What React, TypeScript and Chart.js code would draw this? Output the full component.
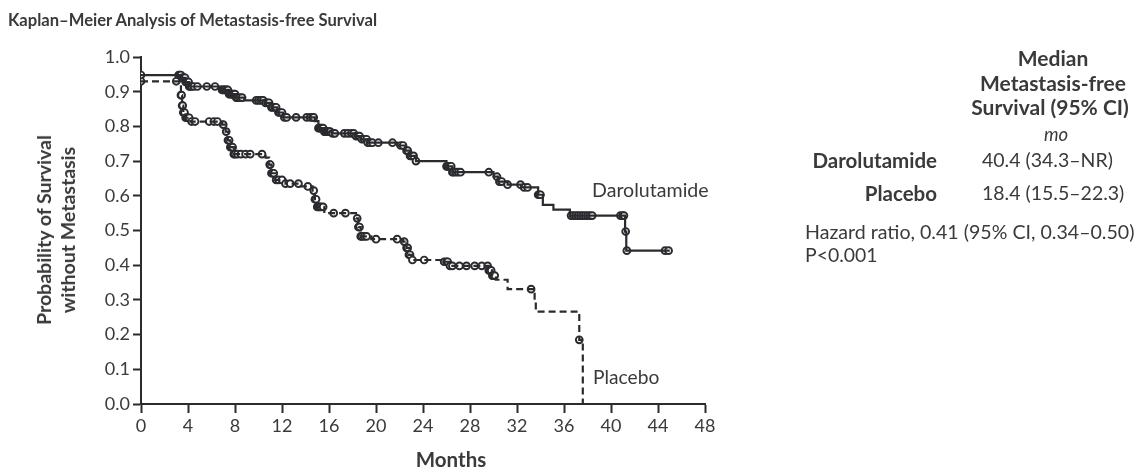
import React, { useEffect, useRef } from "react";
import { Chart, registerables } from "chart.js";

Chart.register(...registerables);

// Kaplan–Meier step data (time in months, survival probability after event)
const darTimes = [0, 3.5, 3.8, 4.1, 6.8, 7.5, 8.1, 8.8, 10.5, 11.1, 11.6, 12.1, 14.8, 15.1, 15.6, 16.3, 18.2, 18.7, 19.3, 21.8, 22.5, 22.9, 23.4, 26.0, 26.5, 30.0, 30.4, 31.2, 32.4, 33.8, 34.2, 35.1, 36.5, 41.2, 41.3, 45.0];
const darSurv = [0.948, 0.94, 0.928, 0.915, 0.905, 0.893, 0.883, 0.875, 0.868, 0.855, 0.84, 0.826, 0.815, 0.795, 0.785, 0.78, 0.772, 0.763, 0.753, 0.745, 0.73, 0.715, 0.70, 0.685, 0.668, 0.655, 0.641, 0.632, 0.624, 0.603, 0.574, 0.56, 0.543, 0.497, 0.442, 0.442];

const plaTimes = [0, 3.3, 3.4, 3.5, 3.6, 3.8, 4.2, 6.9, 7.2, 7.4, 7.6, 7.9, 10.6, 10.9, 11.1, 11.4, 12.3, 13.5, 14.6, 14.8, 15.0, 15.6, 18.3, 18.5, 18.7, 19.6, 22.3, 22.6, 22.8, 23.1, 25.8, 26.3, 29.6, 29.9, 30.2, 31.2, 33.5, 33.6, 37.3, 37.6];
const plaSurv = [0.93, 0.92, 0.89, 0.86, 0.84, 0.825, 0.814, 0.805, 0.785, 0.76, 0.74, 0.72, 0.71, 0.69, 0.665, 0.646, 0.635, 0.627, 0.615, 0.59, 0.568, 0.55, 0.535, 0.51, 0.483, 0.475, 0.468, 0.45, 0.43, 0.415, 0.41, 0.398, 0.385, 0.37, 0.358, 0.331, 0.30, 0.266, 0.185, 0];

// Censoring marks (months)
const darCensor = [0, 3.2, 3.3, 3.4, 3.5, 3.55, 3.6, 3.65, 3.7, 3.75, 3.8, 3.85, 3.9, 4.0, 4.05, 4.1, 4.2, 4.3, 4.5, 4.8, 5.6, 6.3, 6.9, 7.0, 7.1, 7.2, 7.3, 7.4, 7.5, 7.6, 7.7, 7.8, 7.9, 8.0, 8.1, 8.2, 8.4, 8.6, 9.8, 10.0, 10.2, 10.4, 10.6, 10.8, 10.9, 11.1, 11.2, 11.4, 11.5, 11.7, 11.8, 12.0, 12.2, 12.4, 13.2, 14.1, 14.4, 14.6, 14.7, 15.1, 15.2, 15.3, 15.4, 15.5, 15.6, 15.7, 15.8, 15.9, 16.0, 16.1, 16.3, 16.5, 17.3, 17.6, 17.9, 18.1, 18.3, 18.5, 18.6, 18.8, 19.0, 19.2, 19.3, 19.5, 19.7, 20.2, 21.4, 22.1, 22.3, 22.6, 22.7, 22.9, 23.0, 23.2, 23.4, 26.0, 26.1, 26.2, 26.3, 26.4, 26.5, 26.6, 26.8, 27.0, 27.2, 29.6, 30.3, 30.5, 30.7, 31.2, 32.3, 32.6, 32.9, 33.8, 33.9, 34.0, 36.6, 36.8, 37.0, 37.2, 37.4, 37.6, 37.8, 38.0, 38.2, 38.4, 40.8, 41.0, 41.1, 41.25, 41.35, 44.6, 44.9];
const plaCensor = [0, 3.0, 3.4, 3.45, 3.5, 3.55, 3.6, 3.65, 3.7, 3.8, 3.9, 4.0, 4.1, 4.3, 4.6, 5.8, 6.2, 6.5, 7.0, 7.25, 7.4, 7.5, 7.6, 7.7, 7.8, 7.9, 8.0, 8.2, 8.5, 8.9, 9.3, 10.3, 10.95, 11.0, 11.1, 11.2, 11.3, 11.5, 11.7, 12.0, 12.3, 12.7, 13.4, 14.2, 14.7, 14.8, 14.9, 15.0, 15.1, 15.2, 15.3, 15.5, 16.4, 17.4, 18.4, 18.5, 18.6, 18.7, 18.8, 19.0, 19.2, 20.0, 21.8, 22.4, 22.6, 22.7, 22.8, 22.9, 23.1, 24.1, 25.8, 26.0, 26.1, 26.3, 26.5, 27.1, 27.7, 28.4, 29.0, 29.5, 29.6, 29.7, 29.8, 29.9, 30.0, 30.1, 33.2, 37.3];

const xTicks = [0, 4, 8, 12, 16, 20, 24, 28, 32, 36, 40, 44, 48];

const INK = "#2a2b2f";
const TEXT = "#3a3a3a";

function survAt(times: number[], vals: number[], t: number) {
  let v = vals[0];
  for (let i = 0; i < times.length; i++) if (times[i] <= t) v = vals[i];
  return v;
}

function T(props: { x: number; y: number; a?: "l" | "c" | "r"; s?: React.CSSProperties; children: React.ReactNode }) {
  const tx = props.a === "c" ? "-50%" : props.a === "r" ? "-100%" : "0";
  return (
    <div
      style={{
        position: "absolute",
        left: props.x,
        top: props.y,
        transform: `translate(${tx}, -50%)`,
        whiteSpace: "nowrap",
        fontFamily: "Lato, 'Open Sans', sans-serif",
        color: TEXT,
        lineHeight: 1,
        ...props.s,
      }}
    >
      {props.children}
    </div>
  );
}

export default function App() {
  const ref = useRef<HTMLCanvasElement | null>(null);

  useEffect(() => {
    if (!ref.current) return;
    const pts = (ts: number[], vs: number[]) => ts.map((t, i) => ({ x: t, y: vs[i] }));
    const cens = (cs: number[], ts: number[], vs: number[]) => cs.map((c) => ({ x: c, y: survAt(ts, vs, c) }));
    const censorStyle = {
      showLine: false,
      pointRadius: 3.4,
      pointBorderWidth: 1.9,
      pointBackgroundColor: "#ffffff",
      pointBorderColor: INK,
    };
    const chart = new Chart(ref.current, {
      type: "line",
      data: {
        datasets: [
          {
            label: "Darolutamide",
            data: pts(darTimes, darSurv),
            stepped: "before",
            borderColor: INK,
            borderWidth: 2.2,
            pointRadius: 0,
            fill: false,
          },
          {
            label: "Placebo",
            data: pts(plaTimes, plaSurv),
            stepped: "before",
            borderColor: INK,
            borderWidth: 2.2,
            borderDash: [7, 4],
            pointRadius: 0,
            fill: false,
          },
          { label: "Darolutamide censored", data: cens(darCensor, darTimes, darSurv), ...censorStyle },
          { label: "Placebo censored", data: cens(plaCensor, plaTimes, plaSurv), ...censorStyle },
        ],
      },
      options: {
        animation: false,
        responsive: true,
        maintainAspectRatio: false,
        layout: { padding: { left: 0, top: 57, right: 434, bottom: 0 } },
        plugins: { legend: { display: false }, tooltip: { enabled: false } },
        scales: {
          x: {
            type: "linear",
            min: 0,
            max: 48,
            afterBuildTicks: (s: any) => {
              s.ticks = xTicks.map((v) => ({ value: v }));
            },
            afterFit: (s: any) => {
              s.height = 66;
            },
            ticks: {
              color: TEXT,
              padding: 2,
              font: { family: "Lato, sans-serif", size: 18 },
            },
            grid: { drawOnChartArea: false, drawTicks: true, tickLength: 9, tickWidth: 2, tickColor: INK },
            border: { display: true, color: INK, width: 2 },
          },
          y: {
            min: 0,
            max: 1,
            ticks: {
              stepSize: 0.1,
              color: TEXT,
              padding: 3,
              font: { family: "Lato, sans-serif", size: 18 },
              callback: (v: any) => Number(v).toFixed(1),
            },
            afterFit: (s: any) => {
              s.width = 141;
            },
            grid: { drawOnChartArea: false, drawTicks: true, tickLength: 8, tickWidth: 2, tickColor: INK },
            border: { display: true, color: INK, width: 2 },
          },
        },
      },
    });
    return () => chart.destroy();
  }, []);

  const bold: React.CSSProperties = { fontWeight: 700 };
  return (
    <div style={{ position: "absolute", left: 0, top: 0, width: 1139, height: 470, background: "#fff" }}>
      <div style={{ position: "absolute", left: 0, top: 0, width: 1139, height: 470 }}>
        <canvas ref={ref} />
      </div>
      <T x={8} y={20} s={{ fontSize: 16.6, ...bold }}>Kaplan–Meier Analysis of Metastasis-free Survival</T>
      <div
        style={{
          position: "absolute",
          left: 56,
          top: 230,
          transform: "translate(-50%, -50%) rotate(-90deg)",
          whiteSpace: "nowrap",
          textAlign: "center",
          fontFamily: "Lato, sans-serif",
          fontSize: 19.5,
          fontWeight: 700,
          lineHeight: "24px",
          color: TEXT,
        }}
      >
        Probability of Survival
        <br />
        without Metastasis
      </div>
      <T x={451} y={459} a="c" s={{ fontSize: 20.5, ...bold }}>Months</T>
      <T x={592} y={190} s={{ fontSize: 19.6 }}>Darolutamide</T>
      <T x={593} y={377} s={{ fontSize: 19.2 }}>Placebo</T>

      <T x={1053} y={57} a="c" s={{ fontSize: 21, ...bold }}>Median</T>
      <T x={1053} y={82} a="c" s={{ fontSize: 21, ...bold }}>Metastasis-free</T>
      <T x={1050} y={106} a="c" s={{ fontSize: 21, ...bold }}>Survival (95% CI)</T>
      <T x={1056} y={134} a="c" s={{ fontSize: 18.5, fontStyle: "italic" }}>mo</T>
      <T x={937} y={160} a="r" s={{ fontSize: 20.5, ...bold }}>Darolutamide</T>
      <T x={982} y={160} s={{ fontSize: 19.5 }}>40.4 (34.3–NR)</T>
      <T x={937} y={193} a="r" s={{ fontSize: 20.5, ...bold }}>Placebo</T>
      <T x={982} y={193} s={{ fontSize: 19.5 }}>18.4 (15.5–22.3)</T>
      <T x={805} y={232} s={{ fontSize: 19.6 }}>Hazard ratio, 0.41 (95% CI, 0.34–0.50)</T>
      <T x={805} y={255} s={{ fontSize: 19.4 }}>P&lt;0.001</T>
    </div>
  );
}
